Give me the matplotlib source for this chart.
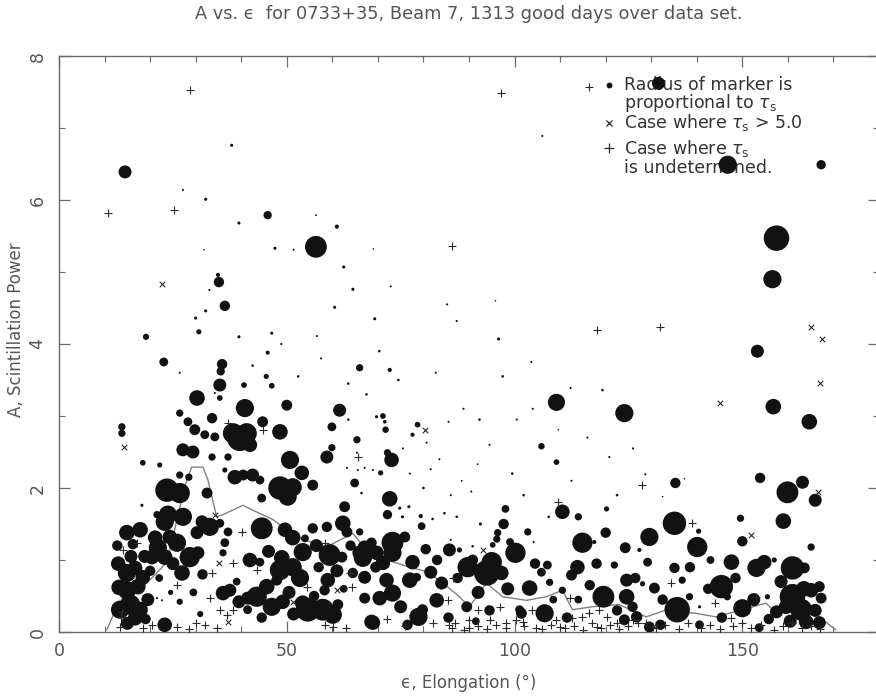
import matplotlib
matplotlib.use("Agg")
import matplotlib.pyplot as plt
import numpy as np
from matplotlib.ticker import MultipleLocator, FixedLocator

# ---------------- data (x = elongation deg, y = A, tau = tau_s) ----------------
circles_upper = [
    (131.6, 7.62, 2.5), (106.1, 6.89, 0.4), (37.9, 6.76, 0.6), (14.5, 6.39, 2.5), (27.2, 6.14, 0.4),
    (32.2, 6.01, 0.6), (39.5, 5.68, 0.6), (45.8, 5.79, 1.6), (56.4, 5.35, 4.2), (56.4, 5.79, 0.35),
    (61.0, 5.63, 0.8), (31.8, 5.31, 0.3), (47.4, 5.33, 0.6), (51.5, 5.31, 0.4), (62.5, 5.07, 0.6),
    (64.5, 4.76, 0.6), (34.9, 4.96, 0.8), (35.1, 4.86, 2.0), (36.4, 4.53, 2.0), (30.0, 4.36, 0.6),
    (30.7, 4.17, 1.0), (19.1, 4.10, 1.2), (39.5, 4.10, 0.6), (32.2, 4.46, 0.6), (69.3, 4.35, 0.6),
    (60.5, 4.51, 0.6), (46.7, 4.15, 0.6), (56.6, 4.11, 0.4), (23.0, 3.75, 1.7), (66.0, 3.67, 1.4),
    (72.6, 3.64, 0.8), (45.8, 3.88, 0.8), (87.3, 4.32, 0.4), (96.5, 4.07, 0.6), (103.7, 3.75, 0.4),
    (95.8, 4.60, 0.3), (112.3, 3.39, 0.4), (119.3, 3.36, 0.5), (146.8, 6.49, 3.5), (167.3, 6.49, 1.8),
    (157.5, 5.47, 4.9), (156.6, 4.90, 3.5), (153.3, 3.90, 2.5), (35.8, 3.72, 2.0), (35.5, 3.62, 1.6),
    (45.5, 3.55, 1.0), (33.0, 4.75, 0.4), (26.5, 3.60, 0.4), (42.5, 3.70, 0.5), (52.5, 3.55, 0.5),
    (57.5, 3.80, 0.4), (63.5, 3.45, 0.5), (48.8, 4.00, 0.4), (67.5, 3.30, 0.5), (70.3, 3.90, 0.5),
    (74.5, 3.50, 0.5), (85.2, 4.55, 0.4), (82.7, 3.60, 0.4), (97.4, 3.55, 0.5), (69.0, 5.32, 0.3),
    (72.8, 4.80, 0.4),
]

circles_left = [
    (13.8, 2.85, 1.4), (13.8, 2.76, 1.4), (35.3, 3.43, 2.5), (40.6, 3.43, 1.1), (30.3, 3.25, 3.0),
    (34.2, 3.32, 0.4), (35.3, 3.25, 1.1), (40.8, 3.11, 3.5), (46.7, 3.42, 1.1), (50.0, 3.15, 2.1),
    (44.7, 2.92, 2.1), (48.5, 2.78, 3.0), (39.7, 2.69, 4.9), (38.2, 2.76, 3.9), (41.2, 2.76, 3.9),
    (41.9, 2.60, 2.8), (26.5, 3.04, 1.4), (28.3, 2.92, 1.7), (29.8, 2.81, 2.1), (32.0, 2.74, 1.7),
    (33.6, 2.97, 2.0), (34.2, 2.71, 1.7), (27.2, 2.53, 2.5), (29.4, 2.50, 2.5), (33.6, 2.43, 1.4),
    (37.1, 2.43, 1.4), (18.4, 2.35, 1.1), (22.1, 2.32, 1.0), (50.7, 2.39, 3.5), (53.3, 2.21, 2.8),
    (58.8, 2.43, 2.5), (59.9, 2.56, 1.4), (61.6, 3.08, 2.5), (59.9, 2.85, 1.7), (65.4, 2.67, 1.4),
    (65.4, 2.49, 0.4), (63.2, 2.28, 0.4), (65.6, 2.25, 0.4), (36.4, 2.25, 1.0), (38.6, 2.15, 2.8),
    (40.4, 2.18, 2.1), (42.5, 2.18, 2.5), (26.5, 2.18, 1.4), (28.5, 2.15, 1.4), (23.7, 1.97, 4.5),
    (26.5, 1.93, 3.9), (32.5, 1.93, 2.1), (48.5, 2.00, 4.5), (51.3, 2.01, 3.5), (50.2, 1.88, 3.5),
    (55.7, 2.04, 2.1), (64.9, 2.07, 1.7), (44.5, 1.86, 1.7), (62.7, 1.74, 2.1), (21.5, 1.63, 1.4),
    (23.9, 1.63, 3.5), (27.2, 1.60, 3.5), (23.2, 1.53, 3.5), (31.4, 1.53, 2.5), (33.1, 1.46, 3.5),
    (30.3, 1.38, 2.5), (14.9, 1.38, 3.0), (17.8, 1.42, 3.0), (21.1, 1.31, 2.8), (24.3, 1.32, 2.8),
    (25.9, 1.24, 3.5), (35.3, 1.51, 1.7), (37.1, 1.39, 1.7), (36.4, 1.24, 1.7), (36.0, 1.10, 1.4),
    (44.5, 1.44, 4.2), (49.6, 1.42, 2.8), (51.3, 1.31, 3.0), (55.7, 1.44, 2.0), (58.8, 1.46, 2.0),
    (62.3, 1.51, 3.0), (63.2, 1.39, 2.1), (68.2, 1.18, 2.1), (69.7, 1.10, 2.8), (21.7, 1.17, 3.5),
    (20.4, 1.04, 2.8), (23.2, 1.04, 3.0), (28.7, 1.04, 3.9), (16.7, 0.89, 2.8), (14.9, 0.82, 3.5),
    (18.4, 0.76, 2.8), (27.0, 0.82, 3.0), (41.9, 1.00, 2.8), (44.1, 0.97, 1.7), (48.9, 1.03, 3.0),
    (48.5, 0.86, 3.9), (51.3, 0.90, 3.5), (53.5, 1.11, 3.5), (52.9, 0.75, 3.5), (59.4, 1.07, 4.2),
    (62.1, 1.04, 2.1), (66.7, 1.03, 3.5), (64.5, 0.82, 2.0), (67.1, 0.76, 2.5), (59.0, 0.72, 2.8),
    (58.3, 0.58, 2.0), (14.9, 0.58, 3.5), (17.3, 0.63, 3.0), (15.6, 0.38, 3.9), (13.4, 0.31, 3.5),
    (17.8, 0.31, 3.0), (16.7, 0.19, 2.8), (21.5, 0.47, 0.4), (22.6, 0.44, 0.4), (36.0, 0.54, 2.8),
    (37.5, 0.58, 2.5), (41.4, 0.47, 2.5), (43.4, 0.49, 3.9), (45.6, 0.63, 3.0), (47.8, 0.72, 2.1),
    (46.7, 0.35, 3.5), (49.1, 0.42, 2.8), (41.4, 0.31, 1.7), (54.6, 0.31, 4.6), (57.9, 0.31, 4.2),
    (60.1, 0.24, 3.5), (61.2, 0.38, 2.1), (23.2, 0.10, 2.8), (68.9, 0.13, 2.8), (44.1, 2.11, 1.7),
    (18.2, 1.76, 0.6),
    (13.0, 0.95, 2.8), (15.8, 1.05, 2.5), (18.8, 1.05, 2.5), (13.2, 0.62, 3.0), (19.5, 0.45, 2.5),
    (15.0, 0.12, 2.5), (19.0, 0.18, 2.0), (12.8, 1.20, 2.0), (16.2, 1.22, 2.0), (20.0, 0.85, 2.0),
    (25.0, 0.95, 2.5), (30.5, 1.10, 2.5), (31.5, 0.80, 2.0), (29.5, 0.55, 1.5), (26.5, 0.42, 1.2),
    (24.5, 0.55, 1.0), (22.0, 0.75, 1.5), (31.0, 0.25, 1.2), (39.5, 0.42, 2.5), (44.5, 0.20, 2.0),
    (51.5, 0.25, 2.5), (50.5, 0.55, 2.5), (56.0, 0.50, 2.0), (62.5, 0.60, 1.5), (53.5, 0.40, 3.0),
    (39.0, 0.70, 1.5), (46.0, 1.12, 2.5), (56.5, 1.20, 2.5), (57.0, 0.90, 2.0), (64.0, 1.20, 2.0),
    (61.0, 0.85, 2.5), (54.0, 1.30, 1.5), (63.5, 2.95, 0.5),
]

circles_mid = [
    (71.1, 3.00, 1.1), (71.5, 2.92, 0.7), (71.7, 2.81, 1.25), (78.7, 2.88, 1.1), (77.6, 2.74, 0.8),
    (85.5, 2.92, 0.4), (80.7, 2.63, 0.4), (73.0, 2.39, 2.8), (72.1, 2.49, 1.4), (70.6, 2.21, 1.0),
    (81.6, 2.26, 0.4), (105.9, 2.58, 1.25), (109.2, 2.36, 1.1), (109.6, 2.81, 0.3), (120.8, 2.43, 0.4),
    (91.9, 2.33, 0.35), (88.4, 2.10, 0.35), (128.7, 2.19, 0.4), (72.6, 1.85, 3.0), (72.1, 1.63, 1.8),
    (76.8, 1.74, 0.6), (79.4, 1.61, 0.8), (79.6, 1.47, 1.5), (98.0, 1.71, 1.5), (97.6, 1.50, 2.0),
    (96.3, 1.38, 1.4), (96.1, 1.29, 1.4), (95.2, 1.21, 1.1), (102.9, 1.39, 1.4), (104.2, 1.25, 0.4),
    (100.2, 1.10, 3.9), (110.5, 1.67, 2.8), (114.0, 1.60, 1.4), (120.2, 1.71, 1.0), (120.0, 1.38, 2.0),
    (114.9, 1.24, 3.9), (124.3, 1.17, 2.1), (129.6, 1.32, 3.5), (129.2, 0.97, 1.7), (130.7, 0.61, 2.1),
    (121.9, 0.93, 1.4), (113.8, 0.90, 2.8), (112.5, 0.79, 2.1), (107.2, 0.93, 1.7), (105.9, 0.83, 1.7),
    (110.5, 0.58, 1.4), (119.5, 0.49, 4.2), (124.6, 0.49, 3.0), (125.9, 0.35, 2.0), (126.8, 0.21, 2.2),
    (129.6, 0.07, 2.1), (103.3, 0.61, 3.0), (106.6, 0.26, 3.5), (107.7, 0.69, 1.4), (101.5, 0.26, 2.1),
    (93.9, 0.82, 4.9), (95.0, 0.97, 3.9), (97.1, 0.82, 2.8), (89.7, 0.90, 3.9), (90.8, 1.00, 2.1),
    (85.7, 1.14, 2.5), (86.0, 1.28, 0.4), (84.0, 0.68, 2.5), (81.6, 0.83, 2.5), (77.6, 0.97, 2.8),
    (78.5, 0.76, 1.7), (77.0, 0.72, 3.0), (75.9, 1.32, 2.1), (73.2, 1.24, 4.2), (73.2, 1.10, 3.5),
    (68.6, 1.24, 2.0), (67.1, 1.17, 2.8), (71.1, 0.96, 2.8), (69.5, 0.90, 2.1), (66.0, 1.10, 2.8),
    (73.2, 0.54, 3.3), (70.4, 0.47, 2.8), (67.1, 0.47, 2.1), (71.9, 0.72, 2.8), (82.9, 0.44, 2.8),
    (89.5, 0.35, 2.1), (78.9, 0.21, 3.5), (79.8, 0.31, 2.1), (68.6, 0.14, 2.8), (101.1, 0.31, 1.7),
    (66.0, 1.39, 1.4), (69.7, 2.99, 0.6), (67.1, 2.28, 0.4), (68.9, 2.25, 0.4), (66.4, 1.93, 0.5),
    (84.6, 1.65, 0.5), (87.3, 1.60, 0.5), (82.0, 1.57, 0.5), (75.4, 1.60, 0.6), (74.8, 1.72, 0.6),
    (90.8, 1.19, 0.5), (87.9, 1.14, 1.0), (109.2, 3.19, 3.3), (124.1, 3.04, 3.5), (88.8, 3.10, 0.4),
    (92.3, 2.95, 0.5), (100.5, 2.95, 0.4), (104.0, 3.10, 0.4),
    (75.0, 0.35, 2.5), (76.5, 0.10, 2.0), (85.5, 0.20, 2.0), (92.0, 0.55, 2.5), (98.5, 0.60, 2.5),
    (94.5, 0.30, 2.0), (80.5, 1.15, 2.0), (83.0, 1.00, 2.0), (87.5, 0.75, 2.0), (99.0, 1.25, 1.5),
    (91.5, 0.15, 1.5), (116.5, 0.65, 2.0), (122.5, 0.30, 2.0), (114.0, 0.45, 1.5), (118.0, 0.95, 2.0),
    (126.5, 0.75, 2.0), (111.5, 0.20, 2.0), (104.5, 0.95, 2.0), (108.5, 0.45, 1.5),
    (75.5, 2.55, 0.4), (83.5, 2.40, 0.4), (90.5, 1.95, 0.4), (94.5, 2.60, 0.4), (99.5, 2.20, 0.5),
    (102.0, 1.90, 0.5), (107.5, 1.60, 0.5), (112.5, 2.10, 0.4), (116.0, 2.70, 0.4), (122.5, 1.90, 0.5),
    (126.0, 2.55, 0.4), (117.5, 1.25, 0.8), (92.5, 1.50, 0.6), (86.0, 1.90, 0.4), (80.0, 2.00, 0.5),
    (77.0, 2.20, 0.4),
]

circles_right = [
    (156.8, 3.13, 3.0), (164.7, 2.92, 3.0), (135.3, 2.07, 2.0), (137.3, 2.13, 0.3), (132.5, 1.88, 0.3),
    (153.9, 2.14, 2.0), (163.2, 2.08, 2.5), (159.9, 1.94, 4.2), (166.0, 1.83, 2.5), (159.0, 1.54, 3.0),
    (149.6, 1.58, 1.4), (135.1, 1.51, 4.5), (140.4, 1.40, 1.0), (140.1, 1.18, 3.9), (127.4, 1.14, 0.8),
    (150.0, 1.26, 2.0), (165.1, 1.18, 1.4), (135.1, 0.89, 2.0), (147.6, 0.97, 3.0), (153.1, 0.89, 3.5),
    (154.8, 0.97, 2.8), (157.0, 1.00, 1.0), (161.0, 0.89, 4.5), (163.6, 0.89, 2.1), (124.6, 0.72, 2.5),
    (136.8, 0.72, 1.4), (145.4, 0.63, 4.5), (146.7, 0.49, 1.4), (128.1, 0.67, 1.0), (135.7, 0.31, 4.9),
    (138.4, 0.49, 1.4), (140.6, 0.35, 0.6), (150.0, 0.33, 3.5), (155.5, 0.49, 1.0), (157.5, 0.28, 2.5),
    (161.0, 0.49, 4.9), (162.9, 0.31, 4.2), (165.1, 0.58, 2.8), (166.9, 0.63, 2.1), (167.3, 0.47, 2.1),
    (166.9, 0.13, 2.5), (164.0, 0.14, 2.8), (159.6, 0.35, 2.8), (124.1, 0.17, 2.1), (140.6, 0.10, 1.7),
    (153.7, 0.06, 1.7),
    (132.5, 0.45, 2.0), (138.5, 0.90, 2.0), (142.5, 0.60, 2.0), (148.5, 0.75, 2.0), (152.5, 0.45, 2.5),
    (158.5, 0.70, 2.5), (160.5, 0.15, 2.5), (163.5, 0.60, 3.0), (145.5, 0.20, 2.0), (132.0, 0.10, 2.0),
    (166.0, 0.30, 2.5), (155.8, 0.18, 2.0), (143.0, 1.00, 1.5),
]

# tau_s undetermined (+)
plus_x = [28.7, 97.1, 116.4, 10.7, 25.2, 86.2, 118.0, 132.0,
          127.9, 109.6, 139.0, 134.4, 143.9, 147.6, 153.1, 65.6, 37.1, 44.7, 40.1, 38.2,
          43.4, 33.6, 33.1, 35.3, 36.8, 38.2, 25.9, 54.4, 58.3, 63.8, 64.3, 17.1, 14.0,
          86.4, 85.3, 96.7, 112.1, 118.6, 91.9, 103.9, 116.4, 114.7, 120.4,
          13.8, 13.6, 13.4, 18.4, 25.9, 32.0, 34.6, 60.1, 58.3, 72.1, 85.5, 90.1, 94.5,
          98.2, 100.4, 101.8, 109.2, 112.7, 118.0, 122.4, 125.9, 128.9, 130.3, 109.9, 104.8,
          98.2, 90.1, 86.2,
          125.0, 127.0, 131.0, 133.0, 136.0, 138.0, 141.0, 143.0, 145.0, 148.0, 150.0, 152.0,
          154.0, 157.0, 159.0, 161.0, 163.0, 165.0, 167.0,
          87.0, 89.0, 92.0, 94.0, 96.0, 102.0, 106.0, 108.0, 111.0, 113.0, 115.0, 117.0,
          119.0, 121.0, 123.0,
          20.5, 28.5, 30.0, 63.0, 76.0, 82.0]
plus_y = [7.53, 7.49, 7.57, 5.82, 5.86, 5.36, 4.19, 4.24,
          2.04, 1.81, 1.51, 0.68, 0.40, 0.19, 0.49, 2.43, 2.90, 2.81, 1.39, 0.96,
          0.86, 0.82, 0.47, 0.31, 0.24, 0.31, 0.65, 0.63, 1.24, 0.82, 0.63, 1.24, 1.14,
          0.75, 0.44, 0.35, 0.47, 0.31, 0.31, 0.31, 0.26, 0.21, 0.21,
          0.28, 0.21, 0.07, 0.06, 0.07, 0.10, 0.06, 0.07, 0.10, 0.18, 0.10, 0.17, 0.17,
          0.13, 0.17, 0.14, 0.17, 0.19, 0.07, 0.13, 0.17, 0.13, 0.07, 0.07, 0.06,
          0.06, 0.06, 0.06,
          0.08, 0.12, 0.05, 0.10, 0.04, 0.12, 0.06, 0.10, 0.04, 0.08, 0.12, 0.05,
          0.10, 0.03, 0.08, 0.12, 0.05, 0.09, 0.04,
          0.12, 0.03, 0.08, 0.04, 0.10, 0.08, 0.04, 0.10, 0.05, 0.09, 0.03, 0.12,
          0.06, 0.10, 0.04,
          0.10, 0.04, 0.12, 0.05, 0.08, 0.12]

# tau_s > 5.0 (x)
cross_x = [22.6, 165.1, 167.5, 167.1, 145.0, 80.3, 14.3, 166.7, 152.0, 93.0, 35.1, 51.3, 37.1, 61.0, 34.2]
cross_y = [4.83, 4.24, 4.07, 3.46, 3.18, 2.81, 2.57, 1.94, 1.35, 1.14, 0.96, 0.42, 0.14, 0.58, 1.63]

# running mean line
line_x = [10.5, 12.7, 19.3, 23.7, 25.5, 27.5, 29.1, 31.6, 32.7, 34.6, 36.0, 40.4, 42.6, 47.0,
          52.1, 58.7, 64.5, 67.5, 72.0, 77.0, 80.0, 83.5, 87.9, 90.1, 93.8, 97.4, 102.6, 107.0,
          110.5, 112.7, 117.0, 123.0, 128.9, 133.0, 139.8, 144.2, 147.1, 155.2, 157.4, 164.0, 170.5]
line_y = [0.03, 0.35, 0.68, 0.97, 1.45, 2.00, 2.29, 2.29, 2.11, 1.60, 1.63, 1.76, 1.69, 1.56,
          1.32, 1.18, 1.37, 1.14, 1.00, 0.90, 0.85, 0.72, 0.49, 0.35, 0.68, 0.49, 0.44, 0.49,
          0.58, 0.31, 0.35, 0.38, 0.21, 0.30, 0.26, 0.21, 0.26, 0.40, 0.26, 0.35, 0.03]

x_ticks = [0, 50, 100, 150]
y_ticks = [0, 2, 4, 6, 8]
title = "A vs. \u03f5  for 0733+35, Beam 7, 1313 good days over data set."
xlabel = "\u03f5, Elongation (\u00b0)"
ylabel = "A, Scintillation Power"

# ---------------- figure ----------------
W, H = 876, 697
fig = plt.figure(figsize=(W / 100, H / 100), dpi=100)
fig.patch.set_facecolor("white")
ax = fig.add_axes([59 / W, 65 / H, 820 / W, 576 / H])
ax.set_xlim(0, 180)
ax.set_ylim(0, 8)

ink = "#121212"
txt = "#555555"
spine_c = "#6a6a6a"
font = "DejaVu Sans"

circ = np.array(circles_upper + circles_left + circles_mid + circles_right)
r_px = 2.6 * circ[:, 2]
sizes = (2 * r_px * 72 / 100) ** 2
ax.plot(line_x, line_y, color="#808080", lw=1.0, zorder=2)
ax.scatter(circ[:, 0], circ[:, 1], s=sizes, c=ink, edgecolors="none", zorder=3)
ax.scatter(plus_x, plus_y, marker="+", s=34, c="#2a2a2a", linewidths=0.8, zorder=4)
ax.scatter(cross_x, cross_y, marker="x", s=16, c="#2a2a2a", linewidths=0.8, zorder=4)

for s in ax.spines.values():
    s.set_color(spine_c)
    s.set_linewidth(1.0)

ax.xaxis.set_major_locator(FixedLocator(x_ticks))
ax.xaxis.set_minor_locator(MultipleLocator(10))
ax.yaxis.set_major_locator(FixedLocator(y_ticks))
ax.yaxis.set_minor_locator(MultipleLocator(1))
ax.tick_params(which="both", direction="in", top=True, right=True, color=spine_c,
               labelcolor=txt, labelsize=12.5)
ax.tick_params(which="major", length=8, width=0.9)
ax.tick_params(which="minor", length=4, width=0.8)
ax.tick_params(axis="x", pad=7)
ax.tick_params(axis="y", pad=9)
for lbl in ax.get_yticklabels():
    lbl.set_rotation(90)
    lbl.set_va("center")
    lbl.set_fontfamily(font)
for lbl in ax.get_xticklabels():
    lbl.set_fontfamily(font)

fig.text(469 / W, 1 - 14 / H, title, ha="center", va="center", fontsize=12.8,
         color=txt, family=font)
fig.text(469 / W, 1 - 683 / H, xlabel, ha="center", va="center", fontsize=12,
         color=txt, family=font)
fig.text(16 / W, 1 - 330 / H, ylabel, ha="center", va="center", rotation=90,
         fontsize=12, color=txt, family=font)

# legend-like annotations
tx = 0.689
ax.plot([0.671], [0.950], marker="o", ms=3.2, color=ink, transform=ax.transAxes, zorder=5)
ax.plot([0.671], [0.884], marker="x", ms=5, mew=0.9, color="#2a2a2a", transform=ax.transAxes, zorder=5)
ax.plot([0.671], [0.840], marker="+", ms=7, mew=0.9, color="#2a2a2a", transform=ax.transAxes, zorder=5)
leg_kw = dict(transform=ax.transAxes, ha="left", va="center", fontsize=12.5, color="#333333",
              family=font, zorder=2)
ax.text(tx, 0.950, "Radius of marker is", **leg_kw)
ax.text(tx, 0.918, r"proportional to $\tau_{\rm s}$", **leg_kw)
ax.text(tx, 0.884, r"Case where $\tau_{\rm s}$ > 5.0", **leg_kw)
ax.text(tx, 0.840, r"Case where $\tau_{\rm s}$", **leg_kw)
ax.text(tx, 0.806, "is undetermined.", **leg_kw)

fig.savefig("out.png", dpi=100, facecolor="white")
